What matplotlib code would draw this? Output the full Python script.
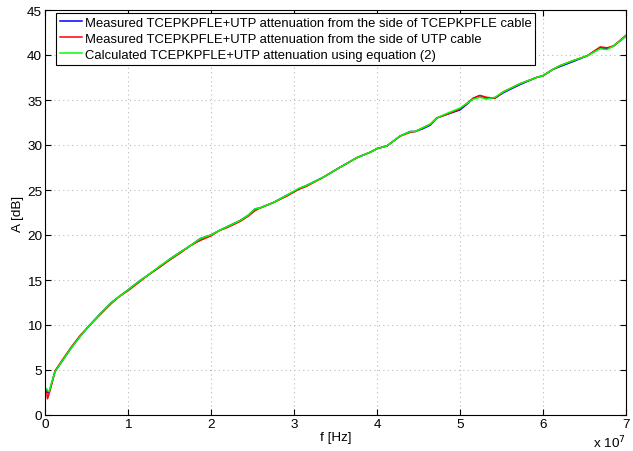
import matplotlib.pyplot as plt
import numpy as np

plt.rcParams['font.family'] = ['Liberation Sans', 'DejaVu Sans']
plt.rcParams['font.size'] = 9.7

# frequency in units of 1e7 Hz
f = [0.02, 0.03, 0.05, 0.08, 0.12, 0.2, 0.32, 0.42, 0.54, 0.67, 0.80, 0.9, 1.0, 1.14,
     1.25, 1.39, 1.5, 1.63, 1.75, 1.87, 2.0, 2.1, 2.19, 2.35, 2.45, 2.53, 2.59, 2.75,
     2.91, 3.06, 3.15, 3.35, 3.55, 3.76, 3.92, 4.0, 4.12, 4.28, 4.40, 4.46, 4.55, 4.64,
     4.72, 4.84, 5.0, 5.08, 5.16, 5.24, 5.32, 5.42, 5.52, 5.72, 5.92, 6.0, 6.12, 6.2,
     6.37, 6.53, 6.69, 6.77, 6.85, 7.0]

A_calc = [2.9, 2.7, 2.6, 3.6, 4.8, 5.9, 7.5, 8.7, 10.0, 11.3, 12.5, 13.2, 13.9, 14.9,
          15.6, 16.6, 17.3, 18.1, 18.8, 19.6, 20.0, 20.5, 20.9, 21.6, 22.2, 22.9, 23.0, 23.6,
          24.4, 25.2, 25.5, 26.4, 27.5, 28.6, 29.2, 29.6, 29.9, 31.0, 31.5, 31.5, 31.9, 32.3,
          33.0, 33.5, 34.1, 34.6, 35.1, 35.3, 35.1, 35.3, 35.9, 36.8, 37.5, 37.7, 38.4, 38.8,
          39.4, 39.9, 40.7, 40.6, 41.0, 42.1]

A_tcep = [2.8, 2.5, 2.5, 3.5, 4.8, 5.9, 7.5, 8.7, 10.0, 11.3, 12.5, 13.2, 13.9, 14.9,
          15.6, 16.5, 17.3, 18.1, 18.8, 19.6, 20.0, 20.5, 20.9, 21.6, 22.2, 22.9, 23.0, 23.6,
          24.4, 25.1, 25.5, 26.4, 27.5, 28.6, 29.2, 29.6, 29.9, 31.0, 31.5, 31.5, 31.8, 32.2,
          33.0, 33.4, 33.9, 34.5, 35.2, 35.5, 35.2, 35.2, 35.8, 36.7, 37.5, 37.7, 38.4, 38.7,
          39.3, 39.9, 40.8, 40.7, 41.0, 42.1]

A_utp = [2.6, 1.8, 2.4, 3.4, 4.9, 6.0, 7.6, 8.8, 10.0, 11.2, 12.4, 13.2, 13.8, 14.8,
         15.6, 16.5, 17.2, 18.0, 18.8, 19.4, 19.9, 20.5, 20.8, 21.5, 22.1, 22.7, 23.0, 23.6,
         24.3, 25.1, 25.4, 26.4, 27.5, 28.6, 29.2, 29.6, 29.9, 31.0, 31.4, 31.5, 31.9, 32.3,
         33.0, 33.4, 34.0, 34.6, 35.2, 35.5, 35.3, 35.2, 35.9, 36.8, 37.5, 37.7, 38.4, 38.8,
         39.4, 39.9, 40.9, 40.8, 41.0, 42.2]

labels = ['Measured TCEPKPFLE+UTP attenuation from the side of TCEPKPFLE cable',
          'Measured TCEPKPFLE+UTP attenuation from the side of UTP cable',
          'Calculated TCEPKPFLE+UTP attenuation using equation (2)']

fig = plt.figure(figsize=(6.33, 4.52), dpi=100)
ax = fig.add_axes([45 / 633, 36 / 452, 581 / 633, 405 / 452])

x = np.array(f) * 1e7
ax.plot(x, A_tcep, color=(0, 0, 1), lw=1.1, label=labels[0])
ax.plot(x, A_utp, color=(1, 0, 0), lw=1.1, label=labels[1])
ax.plot(x, A_calc, color=(0, 1, 0), lw=1.1, label=labels[2])

ax.set_xlim(0, 7e7)
ax.set_ylim(0, 45)
ax.set_xticks(np.arange(0, 8) * 1e7)
ax.set_xticklabels([str(i) for i in range(8)])
ax.set_yticks(range(0, 46, 5))
ax.grid(True, linestyle=(0, (1, 3)), color='#bbbbbb', lw=0.8)
ax.tick_params(direction='in', top=True, right=True, length=4, width=0.8, labelsize=9.7, pad=2)
for s in ax.spines.values():
    s.set_linewidth(0.8)

ax.set_xlabel('f [Hz]', labelpad=1)
ax.set_ylabel('A [dB]', labelpad=2)
ax.text(1.0, -0.045, r'x 10$^7$', transform=ax.transAxes, ha='right', va='top', fontsize=9.7)

leg = ax.legend(loc='upper left', bbox_to_anchor=(0.019, 0.993), fancybox=False,
                edgecolor='black', framealpha=1, handlelength=1.7, borderpad=0.3,
                labelspacing=0.3, handletextpad=0.2, fontsize=9.4, borderaxespad=0)
leg.get_frame().set_linewidth(0.8)

fig.savefig('out.png', dpi=100)
